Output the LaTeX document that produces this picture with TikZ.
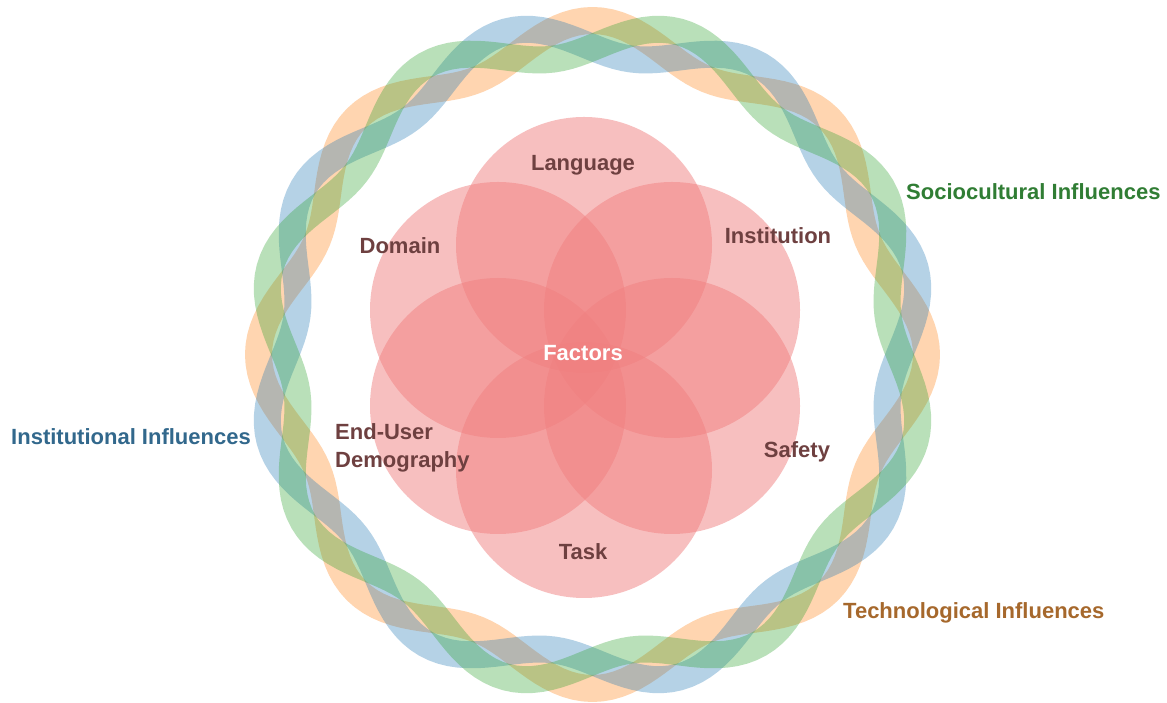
\documentclass[tikz,border=0pt]{standalone}
\usepackage{fontspec}
\setmainfont{Liberation Sans}
\usepackage{tikz}
\definecolor{tabblue}{HTML}{1F77B4}
\definecolor{taborange}{HTML}{FF7F0E}
\definecolor{tabgreen}{HTML}{2CA02C}
\definecolor{petalred}{HTML}{F08080}
\definecolor{petaltext}{RGB}{110,64,64}
\definecolor{sociogreen}{RGB}{48,125,52}
\definecolor{instblue}{RGB}{50,104,140}
\definecolor{techbrown}{RGB}{166,104,44}
\tikzstyle{petal} = [circle, minimum size=256pt, inner sep=0pt, fill=petalred, fill opacity=0.5]
\tikzstyle{petallabel} = [text=petaltext, font=\bfseries\fontsize{22}{28}\selectfont, text height=15.8pt, text depth=0pt, inner sep=0pt]
\tikzstyle{ribbon} = [line width=27pt, draw opacity=0.33, line join=round]
\tikzstyle{influence} = [font=\bfseries\fontsize{22}{28}\selectfont, text height=15.8pt, text depth=0pt, inner sep=0pt]

\begin{document}
\begin{tikzpicture}[x=1pt, y=1pt]
	\useasboundingbox (0,0) rectangle (1167,703);

	% three twisted influence rings
	\begin{scope}[shift={(592.5,348.5)}]
		\draw [ribbon, draw=taborange] plot[domain=0:360, samples=241] (\x:{316+18*cos(8*\x)}) -- cycle;
		\draw [ribbon, draw=tabblue] plot[domain=0:360, samples=241] (\x:{316+18*cos(8*\x-120)}) -- cycle;
		\draw [ribbon, draw=tabgreen] plot[domain=0:360, samples=241] (\x:{316+18*cos(8*\x-240)}) -- cycle;
	\end{scope}

	% factor petals
	\node (language) [petal] at (584,458) {};
	\node (domain) [petal] at (498,393) {};
	\node (institution) [petal] at (672,393) {};
	\node (enduser) [petal] at (498,297) {};
	\node (safety) [petal] at (672,297) {};
	\node (task) [petal] at (584,233) {};

	\node (languagetxt) [petallabel] at (583,540) {Language};
	\node (domaintxt) [petallabel] at (400,457) {Domain};
	\node (institutiontxt) [petallabel] at (778,467) {Institution};
	\node (endusertxt) [petallabel, align=left, anchor=west] at (335,243) {End-User\\Demography};
	\node (safetytxt) [petallabel] at (797,253) {Safety};
	\node (tasktxt) [petallabel] at (583,151) {Task};
	\node (factors) [petallabel, text=white] at (583,350) {Factors};

	\node (socio) [influence, text=sociogreen, anchor=west] at (906,511) {Sociocultural Influences};
	\node (inst) [influence, text=instblue, anchor=east] at (251,266) {Institutional Influences};
	\node (tech) [influence, text=techbrown, anchor=west] at (843,92) {Technological Influences};
\end{tikzpicture}
\end{document}
